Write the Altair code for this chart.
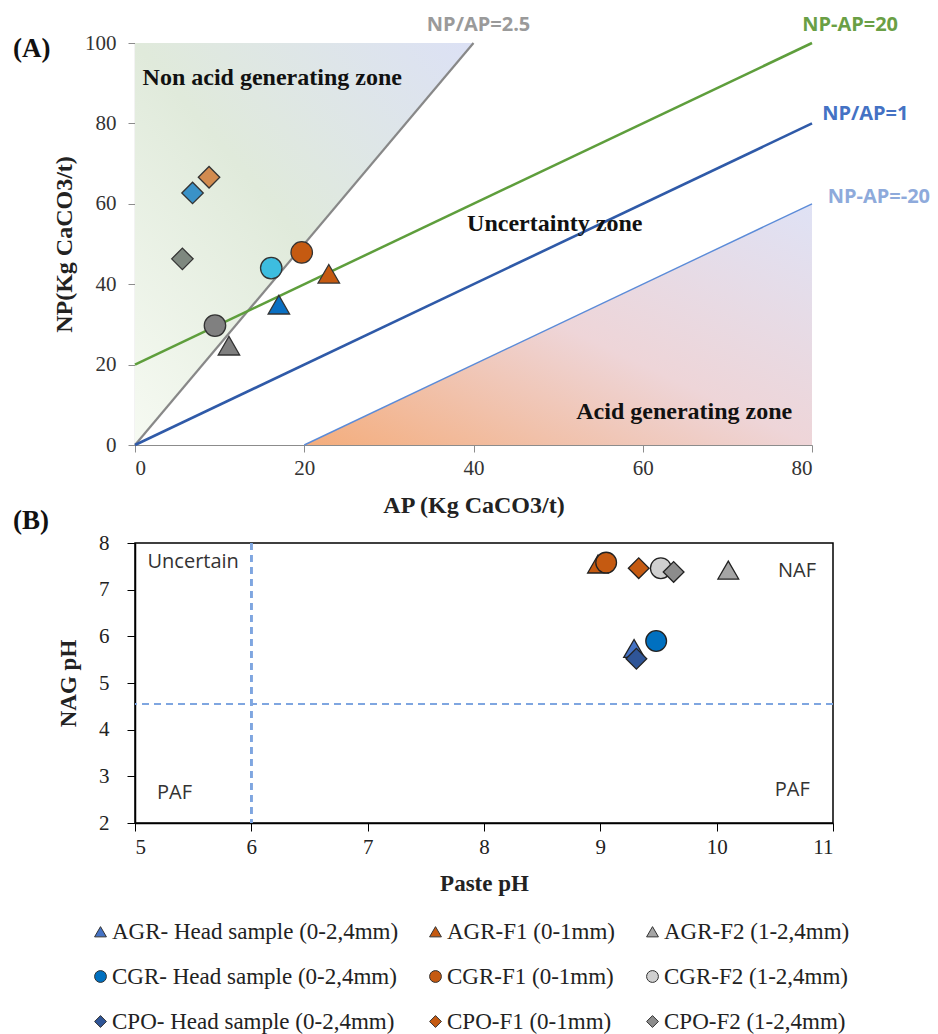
import altair as alt
import pandas as pd

# ---------------- data ----------------
samples = ["AGR- Head sample (0-2,4mm)", "AGR-F1 (0-1mm)", "AGR-F2 (1-2,4mm)",
           "CGR- Head sample (0-2,4mm)", "CGR-F1 (0-1mm)", "CGR-F2 (1-2,4mm)",
           "CPO- Head sample (0-2,4mm)", "CPO-F1 (0-1mm)", "CPO-F2 (1-2,4mm)"]
ap_values = [17.0, 22.9, 11.1, 16.1, 19.7, 9.45, 6.8, 8.75, 5.6]
np_values = [34.9, 42.6, 24.7, 44.0, 47.9, 29.7, 62.7, 66.6, 46.3]
paste_ph = [9.29, 8.98, 10.10, 9.48, 9.05, 9.52, 9.31, 9.33, 9.63]
nag_ph = [5.74, 7.55, 7.42, 5.90, 7.58, 7.46, 5.52, 7.46, 7.38]

line_names = ["NP/AP=2.5", "NP-AP=20", "NP/AP=1", "NP-AP=-20"]
line_ap_from = [0, 0, 0, 20]
line_np_from = [0, 20, 0, 0]
line_ap_to = [40, 80, 80, 80]
line_np_to = [100, 100, 80, 60]

nonacid_ap = [0, 40]
nonacid_np_low = [0, 100]
nonacid_np_high = [100, 100]
acid_ap = [20, 80]
acid_np_low = [0, 0]
acid_np_high = [0, 60]

paf_paste_limit = 6.0
paf_nag_limit = 4.55

x_ticks_a = [0, 20, 40, 60, 80]
y_ticks_a = [0, 20, 40, 60, 80, 100]
x_ticks_b = [5, 6, 7, 8, 9, 10, 11]
y_ticks_b = [2, 3, 4, 5, 6, 7, 8]

# annotation texts (data coordinates)
zone_labels = ["Non acid generating zone", "Uncertainty zone", "Acid generating zone"]
zone_ap = [0.9, 49.6, 64.9]
zone_np = [91.4, 54.9, 8.1]
zone_align = ["left", "center", "center"]
line_label_ap = [40.6, 84.5, 86.3, 87.9]
line_label_np = [104.6, 104.4, 82.3, 61.6]
panel_labels = ["(A)", "(B)"]
panel_ap = [-12.2, -12.3]
panel_np = [98.4, -19.0]

b_labels = ["Uncertain", "NAF", "PAF", "PAF"]
b_paste = [5.50, 10.69, 5.34, 10.65]
b_nag = [7.60, 7.40, 2.64, 2.71]

# ---------------- styles ----------------
SERIF = "Liberation Serif"
SANS = "Open Sans"
shape_of = {"AGR": "triangle-up", "CGR": "circle", "CPO": "diamond"}
colors_a = dict(zip(samples, ["#0a6fc2", "#c55a11", "#7f7f7f", "#3dbde0", "#c55a11", "#808080",
                              "#3a92c8", "#d28b4f", "#7e887f"]))
colors_b = dict(zip(samples, ["#4472c4", "#c55a11", "#a5a5a5", "#0070c0", "#c55a11", "#d0d0d0",
                              "#2f5597", "#c55a11", "#8c8c8c"]))
# the legend fills column by column: order the domain so that rows read AGR / CGR / CPO
legend_order = [samples[r * 3 + c] for c in range(3) for r in range(3)]
shape_range = [shape_of[s[:3]] for s in legend_order]
range_a = [colors_a[s] for s in legend_order]
range_b = [colors_b[s] for s in legend_order]

line_colors = ["#888888", "#5e9e3c", "#2f5aa8", "#5b8bd8"]
line_widths = [2.2, 2.5, 2.6, 1.4]
line_label_colors = ["#9a9a9a", "#6a9f45", "#4472c4", "#8eaadb"]

pts = pd.DataFrame({"sample": samples, "AP": ap_values, "NP": np_values,
                    "paste": paste_ph, "nag": nag_ph})

rows = []
for n, a0, n0, a1, n1 in zip(line_names, line_ap_from, line_np_from, line_ap_to, line_np_to):
    rows.append({"name": n, "AP": a0, "NP": n0})
    rows.append({"name": n, "AP": a1, "NP": n1})
lines_df = pd.DataFrame(rows)

nonacid_df = pd.DataFrame({"AP": nonacid_ap, "NP": nonacid_np_low, "NP2": nonacid_np_high})
acid_df = pd.DataFrame({"AP": acid_ap, "NP": acid_np_low, "NP2": acid_np_high})

# ---------------- panel A ----------------
sx_a = alt.Scale(domain=[0, 80], nice=False)
sy_a = alt.Scale(domain=[0, 100], nice=False)
axis_common_a = dict(grid=False, domainColor="#8c8c8c", tickColor="#8c8c8c", tickSize=7,
                     domainWidth=1.2, labelFont=SERIF, labelFontSize=21, labelColor="#333",
                     titleFont=SERIF, titleFontSize=24, titleFontWeight="bold", titleColor="#222")
ax_a = alt.Axis(values=x_ticks_a, title="AP (Kg CaCO3/t)", labelPadding=5, titlePadding=15,
                **axis_common_a)
ay_a = alt.Axis(values=y_ticks_a, title="NP(Kg CaCO3/t)", labelPadding=12, titlePadding=8,
                **axis_common_a)


def XA(f):
    return alt.X(f"{f}:Q", scale=sx_a, axis=ax_a)


def YA(f):
    return alt.Y(f"{f}:Q", scale=sy_a, axis=ay_a)


grad_nonacid = alt.Gradient(gradient="linear", x1=0, y1=1, x2=1, y2=0,
                            stops=[alt.GradientStop(color="#f6faf2", offset=0),
                                   alt.GradientStop(color="#e0eadb", offset=0.5),
                                   alt.GradientStop(color="#dce1f5", offset=1)])
grad_acid = alt.Gradient(gradient="linear", x1=0, y1=1, x2=1, y2=0,
                         stops=[alt.GradientStop(color="#f4ad7c", offset=0),
                                alt.GradientStop(color="#eed5d8", offset=0.5),
                                alt.GradientStop(color="#dfe2f5", offset=1)])

area_nonacid = alt.Chart(nonacid_df).mark_area(color=grad_nonacid).encode(
    x=XA("AP"), y=YA("NP"), y2="NP2")
area_acid = alt.Chart(acid_df).mark_area(color=grad_acid).encode(
    x=XA("AP"), y=YA("NP"), y2="NP2")

line_layers = []
for n, c, w in zip(line_names, line_colors, line_widths):
    line_layers.append(
        alt.Chart(lines_df).transform_filter(alt.datum.name == n)
        .mark_line(color=c, strokeWidth=w).encode(x=XA("AP"), y=YA("NP"), detail="name:N"))

points_a = alt.Chart(pts).mark_point(filled=True, size=460, opacity=1, stroke="#333",
                                     strokeWidth=1.3).encode(
    x=XA("AP"), y=YA("NP"),
    color=alt.Color("sample:N", scale=alt.Scale(domain=legend_order, range=range_a), legend=None),
    shape=alt.Shape("sample:N", scale=alt.Scale(domain=legend_order, range=shape_range),
                    legend=None))

zone_df = pd.DataFrame({"t": zone_labels, "AP": zone_ap, "NP": zone_np, "al": zone_align})
zone_text_layers = []
for al in ["left", "center"]:
    zone_text_layers.append(
        alt.Chart(zone_df).transform_filter(alt.datum.al == al)
        .mark_text(font=SERIF, fontSize=24, fontWeight="bold", color="#111", align=al,
                   baseline="middle").encode(x=XA("AP"), y=YA("NP"), text="t:N"))

ll_df = pd.DataFrame({"t": line_names, "AP": line_label_ap, "NP": line_label_np})
ll_layers = []
for n, c in zip(line_names, line_label_colors):
    ll_layers.append(
        alt.Chart(ll_df).transform_filter(alt.datum.t == n)
        .mark_text(font=SANS, fontSize=20, fontWeight="bold", color=c, baseline="middle")
        .encode(x=XA("AP"), y=YA("NP"), text="t:N"))

pl_df = pd.DataFrame({"t": panel_labels, "AP": panel_ap, "NP": panel_np})
panel_text = alt.Chart(pl_df).mark_text(font=SERIF, fontSize=27, fontWeight="bold",
                                        color="#111", baseline="middle").encode(
    x=XA("AP"), y=YA("NP"), text="t:N")

chart_a = alt.layer(area_nonacid, area_acid, *line_layers, points_a, *zone_text_layers,
                    *ll_layers, panel_text).properties(
    width=677, height=402, view=alt.ViewBackground(strokeWidth=0))

# ---------------- panel B ----------------
sx_b = alt.Scale(domain=[5, 11], nice=False)
sy_b = alt.Scale(domain=[2, 8], nice=False)
axis_common_b = dict(grid=False, domainColor="#000", tickColor="#000", tickSize=8,
                     domainWidth=1.5, labelFont=SERIF, labelFontSize=21, labelColor="#222",
                     titleFont=SERIF, titleFontSize=23, titleFontWeight="bold", titleColor="#222")
ax_b = alt.Axis(values=x_ticks_b, title="Paste pH", labelPadding=5, titlePadding=15,
                **axis_common_b)
ay_b = alt.Axis(values=y_ticks_b, title="NAG pH", labelPadding=18, titlePadding=18,
                **axis_common_b)


def XB(f):
    return alt.X(f"{f}:Q", scale=sx_b, axis=ax_b)


def YB(f):
    return alt.Y(f"{f}:Q", scale=sy_b, axis=ay_b)


rule_v = alt.Chart(pts).mark_rule(color="#7fa6e0", strokeWidth=1.8, strokeDash=[7, 5]).encode(
    x=alt.datum(paf_paste_limit, scale=sx_b, axis=ax_b))
rule_h = alt.Chart(pts).mark_rule(color="#7fa6e0", strokeWidth=1.8, strokeDash=[7, 5]).encode(
    y=alt.datum(paf_nag_limit, scale=sy_b, axis=ay_b))

legend_b = alt.Legend(title=None, orient="none", legendX=-46, legendY=377, columns=3,
                      columnPadding=25, rowPadding=21, symbolSize=140, labelFont=SERIF,
                      labelFontSize=23, labelColor="#222", symbolStrokeColor="#333",
                      symbolStrokeWidth=1, labelLimit=400, labelOffset=0)

points_b = alt.Chart(pts).mark_point(filled=True, size=430, opacity=1, stroke="#222",
                                     strokeWidth=1.3).encode(
    x=XB("paste"), y=YB("nag"),
    color=alt.Color("sample:N", scale=alt.Scale(domain=legend_order, range=range_b),
                    legend=legend_b),
    shape=alt.Shape("sample:N", scale=alt.Scale(domain=legend_order, range=shape_range),
                    legend=legend_b))

bl_df = pd.DataFrame({"t": b_labels, "paste": b_paste, "nag": b_nag})
b_text = alt.Chart(bl_df).mark_text(font=SANS, fontSize=20, color="#333", baseline="middle").encode(
    x=XB("paste"), y=YB("nag"), text="t:N")

chart_b = alt.layer(rule_v, rule_h, points_b, b_text).properties(
    width=698, height=280, view=alt.ViewBackground(stroke="#000", strokeWidth=1.5))

chart = alt.vconcat(chart_a, chart_b, spacing=-4).resolve_scale(
    color="independent", shape="independent").properties(
    padding={"left": 12, "top": 14, "right": 0, "bottom": 0}
).configure(background="white")

chart.save("out.html", embed_options={"renderer": "svg", "actions": False})
